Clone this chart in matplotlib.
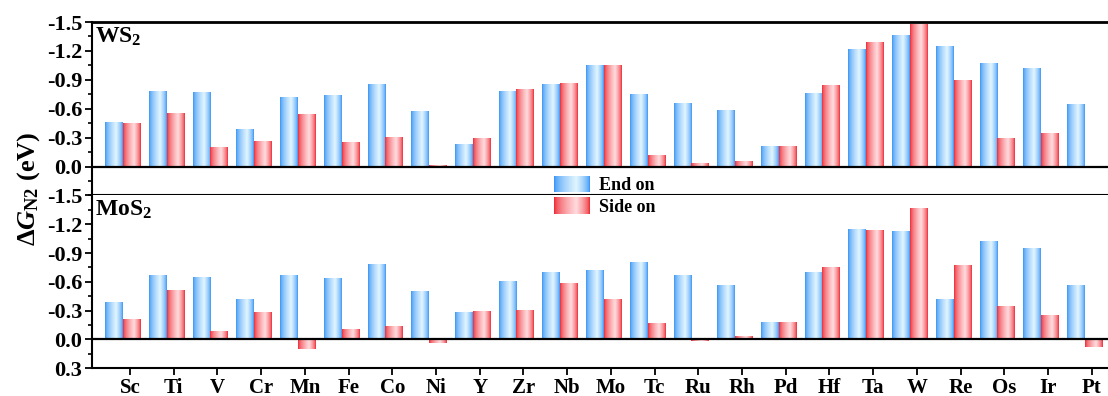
import numpy as np
import matplotlib
matplotlib.use("Agg")
import matplotlib.pyplot as plt
from matplotlib.ticker import MultipleLocator, FixedLocator

plt.rcParams["font.family"] = "Liberation Serif"
plt.rcParams["font.weight"] = "bold"
plt.rcParams["mathtext.fontset"] = "custom"
plt.rcParams["mathtext.rm"] = "Liberation Serif:bold"
plt.rcParams["mathtext.bf"] = "Liberation Serif:bold"
plt.rcParams["mathtext.it"] = "Liberation Serif:bold:italic"

metals = ["Sc", "Ti", "V", "Cr", "Mn", "Fe", "Co", "Ni", "Y", "Zr", "Nb", "Mo",
          "Tc", "Ru", "Rh", "Pd", "Hf", "Ta", "W", "Re", "Os", "Ir", "Pt"]

# WS2, dG_N2 (eV)
ws2_end = [-0.45, -0.77, -0.76, -0.38, -0.71, -0.73, -0.85, -0.57, -0.22, -0.77, -0.85, -1.04,
           -0.74, -0.65, -0.58, -0.20, -0.75, -1.21, -1.35, -1.24, -1.06, -1.01, -0.64]
ws2_side = [-0.44, -0.55, -0.19, -0.25, -0.53, -0.24, -0.30, -0.01, -0.29, -0.79, -0.86, -1.04,
            -0.11, -0.03, -0.05, -0.20, -0.84, -1.28, -1.47, -0.89, -0.29, -0.34, np.nan]

# MoS2, dG_N2 (eV)
mos2_end = [-0.38, -0.66, -0.64, -0.41, -0.66, -0.63, -0.78, -0.49, -0.28, -0.60, -0.69, -0.71,
            -0.80, -0.66, -0.56, -0.17, -0.69, -1.14, -1.12, -0.41, -1.01, -0.94, -0.56]
mos2_side = [-0.20, -0.51, -0.08, -0.28, 0.10, -0.10, -0.13, 0.04, -0.29, -0.30, -0.58, -0.41,
             -0.16, 0.02, -0.03, -0.17, -0.74, -1.13, -1.36, -0.76, -0.34, -0.24, 0.08]

yticks_top = [-1.5, -1.2, -0.9, -0.6, -0.3, 0.0]
yticks_bot = [-1.5, -1.2, -0.9, -0.6, -0.3, 0.0, 0.3]
ylabels_top = ["-1.5", "-1.2", "-0.9", "-0.6", "-0.3", "0.0"]
ylabels_bot = ["-1.5", "-1.2", "-0.9", "-0.6", "-0.3", "0.0", "0.3"]

blue_dark, blue_light = np.array([0.20, 0.57, 0.96]), np.array([0.88, 0.96, 1.0])
red_dark, red_light = np.array([0.93, 0.14, 0.18]), np.array([1.0, 0.86, 0.87])


def gradient(dark, light, n=64, peak=0.62):
    t = np.linspace(0, 1, n)
    f = np.where(t < peak, t / peak, (1 - t) / (1 - peak)) ** 0.6
    return (dark * (1 - f[:, None]) + light * f[:, None])[None, :, :]


def grad_bars(ax, x, vals, width, dark, light):
    bars = ax.bar(x, vals, width=width, color="none", linewidth=0)
    img = gradient(dark, light)
    for r in bars:
        h = r.get_height()
        if not np.isfinite(h) or h == 0:
            continue
        x0 = r.get_x()
        ax.imshow(img, extent=(x0, x0 + r.get_width(), r.get_y(), r.get_y() + h),
                  aspect="auto", interpolation="bilinear", zorder=2)


W, H = 1108, 396
fig = plt.figure(figsize=(W / 100, H / 100), dpi=100)
px = 43.71  # pixels per category
xlim = (-0.87, 23.0)
axw = (xlim[1] - xlim[0]) * px / W
ax_top = fig.add_axes([92 / W, 1 - 195.4 / H, axw, 173.4 / H])
ax_bot = fig.add_axes([92 / W, 1 - 368.3 / H, axw, 172.9 / H])

x = np.arange(len(metals))
bw = 0.405
shift = 0.16

panels = [(ax_top, ws2_end, ws2_side, "WS$_2$", yticks_top, ylabels_top),
          (ax_bot, mos2_end, mos2_side, "MoS$_2$", yticks_bot, ylabels_bot)]

for ax, end, side, name, yt, yl in panels:
    grad_bars(ax, x - shift - bw / 2, end, bw, blue_dark, blue_light)
    grad_bars(ax, x - shift + bw / 2, side, bw, red_dark, red_light)
    ax.axhline(0, color="black", lw=1.6, zorder=3)
    ax.set_xlim(*xlim)
    ax.set_ylim(0.3, -1.5)
    ax.yaxis.set_major_locator(FixedLocator(yt))
    ax.set_yticklabels(yl)
    ax.yaxis.set_minor_locator(MultipleLocator(0.15))
    ax.tick_params(axis="y", which="major", direction="out", length=5, width=1.3,
                   labelsize=16, pad=2)
    ax.tick_params(axis="y", which="minor", direction="out", length=3, width=1.2)
    ax.spines["right"].set_visible(False)
    for s in ["left", "bottom", "top"]:
        ax.spines[s].set_linewidth(1.5)
    ax.text(0.003, 0.882, name, transform=ax.transAxes, fontsize=17,
            fontweight="bold", va="baseline", ha="left")

ax_top.spines["top"].set_linewidth(2.0)
ax_top.tick_params(axis="x", bottom=False, labelbottom=False)
ax_bot.spines["top"].set_visible(False)
ax_bot.set_xticks(x)
ax_bot.set_xticklabels(metals)
ax_bot.tick_params(axis="x", direction="out", length=5, width=1.3, labelsize=15, pad=2)

fig.text(29 / W, 1 - 189 / H, r"$\Delta G_{\rm N2}$ (eV)", rotation=90,
         ha="center", va="center", fontsize=19, fontweight="bold")

# legend drawn as gradient swatches
leg = fig.add_axes([554 / W, 1 - 214.3 / H, 35.3 / W, 38.3 / H])
leg.set_axis_off()
leg.imshow(gradient(blue_dark, blue_light), extent=(0, 1, 0.59, 1.0),
           aspect="auto", interpolation="bilinear")
leg.imshow(gradient(red_dark, red_light), extent=(0, 1, 0.0, 0.434),
           aspect="auto", interpolation="bilinear")
leg.set_xlim(0, 1)
leg.set_ylim(0, 1)
fig.text(599 / W, 1 - 185.5 / H, "End on", fontsize=13, fontweight="bold", va="center")
fig.text(599 / W, 1 - 207 / H, "Side on", fontsize=13, fontweight="bold", va="center")

fig.savefig("out.png", dpi=100)
